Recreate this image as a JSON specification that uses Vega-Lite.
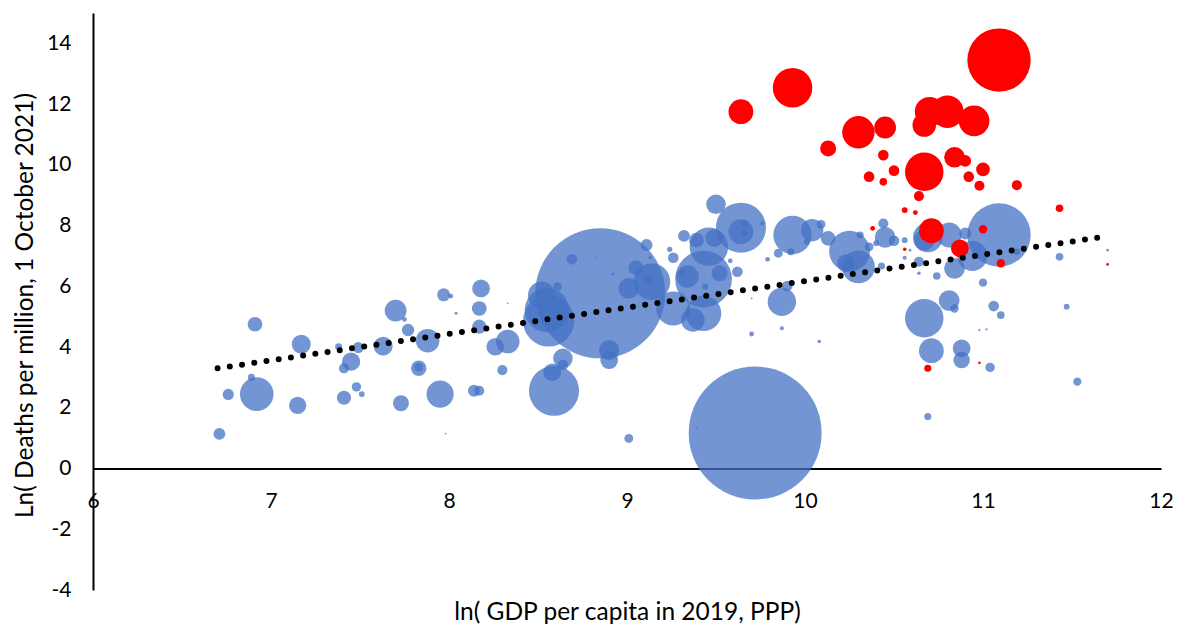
{
"$schema": "https://vega.github.io/schema/vega-lite/v6.json",
"width": 1068, "height": 577,
"autosize": {"type": "none"},
"padding": {"left": 93, "top": 13, "right": 18, "bottom": 34},
"background": "white",
"config": {"view": {"stroke": null}, "font": "Lato",
 "axis": {"grid": false, "ticks": false, "tickSize": 0, "domainColor": "black", "domainWidth": 2, "labelColor": "black", "titleColor": "black", "labelFont": "Lato", "titleFont": "Lato", "labelFontSize": 21, "titleFontSize": 24.5, "titleFontWeight": "normal", "labelOverlap": false}},
"datasets": {
"bubbles": [
{"x":6.91,"y":4.75,"pop":17.1,"highlight":"no"},
{"x":7.17,"y":4.09,"pop":28.5,"highlight":"no"},
{"x":6.71,"y":1.14,"pop":11.2,"highlight":"no"},
{"x":6.76,"y":2.44,"pop":9.9,"highlight":"no"},
{"x":6.92,"y":2.45,"pop":89.9,"highlight":"no"},
{"x":6.89,"y":3.00,"pop":4.0,"highlight":"no"},
{"x":7.15,"y":2.08,"pop":23.4,"highlight":"no"},
{"x":7.38,"y":4.01,"pop":4.0,"highlight":"no"},
{"x":7.45,"y":3.52,"pop":26.4,"highlight":"no"},
{"x":7.41,"y":3.30,"pop":8.1,"highlight":"no"},
{"x":7.49,"y":3.98,"pop":9.9,"highlight":"no"},
{"x":7.48,"y":2.69,"pop":7.0,"highlight":"no"},
{"x":7.51,"y":2.45,"pop":2.7,"highlight":"no"},
{"x":7.41,"y":2.33,"pop":15.9,"highlight":"no"},
{"x":7.63,"y":4.03,"pop":28.5,"highlight":"no"},
{"x":7.70,"y":5.20,"pop":37.7,"highlight":"no"},
{"x":7.75,"y":4.91,"pop":1.8,"highlight":"no"},
{"x":7.77,"y":4.56,"pop":12.2,"highlight":"no"},
{"x":7.80,"y":4.23,"pop":1.8,"highlight":"no"},
{"x":7.88,"y":4.21,"pop":44.0,"highlight":"no"},
{"x":7.83,"y":3.30,"pop":18.8,"highlight":"no"},
{"x":7.83,"y":3.34,"pop":6.2,"highlight":"no"},
{"x":7.73,"y":2.15,"pop":20.2,"highlight":"no"},
{"x":7.95,"y":2.45,"pop":58.3,"highlight":"no"},
{"x":7.97,"y":5.72,"pop":13.3,"highlight":"no"},
{"x":8.01,"y":5.68,"pop":1.8,"highlight":"no"},
{"x":8.04,"y":5.11,"pop":0.7,"highlight":"no"},
{"x":7.98,"y":1.15,"pop":0.25,"highlight":"no"},
{"x":8.17,"y":5.27,"pop":17.1,"highlight":"no"},
{"x":8.18,"y":5.93,"pop":24.9,"highlight":"no"},
{"x":8.17,"y":4.67,"pop":15.9,"highlight":"no"},
{"x":8.14,"y":2.56,"pop":11.2,"highlight":"no"},
{"x":8.17,"y":2.56,"pop":8.1,"highlight":"no"},
{"x":8.26,"y":4.01,"pop":24.9,"highlight":"no"},
{"x":8.33,"y":4.18,"pop":44.0,"highlight":"no"},
{"x":8.30,"y":3.24,"pop":8.1,"highlight":"no"},
{"x":8.33,"y":5.44,"pop":0.25,"highlight":"no"},
{"x":8.85,"y":5.77,"pop":1340,"highlight":"no"},
{"x":8.52,"y":5.71,"pop":58.3,"highlight":"no"},
{"x":8.56,"y":4.86,"pop":209,"highlight":"no"},
{"x":8.55,"y":5.22,"pop":155.6,"highlight":"no"},
{"x":8.59,"y":2.56,"pop":199,"highlight":"no"},
{"x":8.69,"y":6.89,"pop":9.0,"highlight":"no"},
{"x":8.83,"y":6.94,"pop":0.25,"highlight":"no"},
{"x":8.92,"y":6.40,"pop":0.56,"highlight":"no"},
{"x":8.61,"y":5.99,"pop":6.2,"highlight":"no"},
{"x":8.64,"y":3.63,"pop":30.1,"highlight":"no"},
{"x":8.64,"y":3.41,"pop":9.0,"highlight":"no"},
{"x":8.58,"y":3.17,"pop":24.9,"highlight":"no"},
{"x":8.90,"y":3.90,"pop":32.9,"highlight":"no"},
{"x":8.90,"y":3.57,"pop":24.9,"highlight":"no"},
{"x":9.01,"y":5.93,"pop":34.1,"highlight":"no"},
{"x":9.14,"y":6.15,"pop":106.7,"highlight":"no"},
{"x":9.12,"y":6.21,"pop":6.2,"highlight":"no"},
{"x":9.05,"y":6.61,"pop":17.1,"highlight":"no"},
{"x":9.11,"y":7.36,"pop":11.2,"highlight":"no"},
{"x":9.13,"y":6.95,"pop":1.0,"highlight":"no"},
{"x":9.24,"y":7.22,"pop":2.2,"highlight":"no"},
{"x":9.26,"y":6.94,"pop":9.0,"highlight":"no"},
{"x":9.26,"y":5.27,"pop":92.7,"highlight":"no"},
{"x":9.37,"y":4.89,"pop":44.0,"highlight":"no"},
{"x":9.43,"y":5.11,"pop":99.6,"highlight":"no"},
{"x":9.34,"y":6.32,"pop":40.1,"highlight":"no"},
{"x":9.43,"y":6.24,"pop":255,"highlight":"no"},
{"x":9.32,"y":7.66,"pop":11.2,"highlight":"no"},
{"x":9.39,"y":7.52,"pop":17.1,"highlight":"no"},
{"x":9.46,"y":7.30,"pop":117.2,"highlight":"no"},
{"x":9.49,"y":7.59,"pop":24.9,"highlight":"no"},
{"x":9.44,"y":5.99,"pop":3.0,"highlight":"no"},
{"x":9.50,"y":8.70,"pop":30.1,"highlight":"no"},
{"x":9.64,"y":7.93,"pop":199,"highlight":"no"},
{"x":9.64,"y":7.80,"pop":48.8,"highlight":"no"},
{"x":9.66,"y":8.08,"pop":3.0,"highlight":"no"},
{"x":9.66,"y":7.75,"pop":3.0,"highlight":"no"},
{"x":9.76,"y":8.07,"pop":1.3,"highlight":"no"},
{"x":9.52,"y":6.43,"pop":20.2,"highlight":"no"},
{"x":9.62,"y":6.48,"pop":9.0,"highlight":"no"},
{"x":9.58,"y":6.84,"pop":1.8,"highlight":"no"},
{"x":9.31,"y":6.45,"pop":2.7,"highlight":"no"},
{"x":9.93,"y":7.69,"pop":117.2,"highlight":"no"},
{"x":10.04,"y":7.85,"pop":40.1,"highlight":"no"},
{"x":10.09,"y":8.04,"pop":6.2,"highlight":"no"},
{"x":10.13,"y":7.58,"pop":17.1,"highlight":"no"},
{"x":10.01,"y":7.47,"pop":2.7,"highlight":"no"},
{"x":9.92,"y":7.14,"pop":4.0,"highlight":"no"},
{"x":9.85,"y":7.09,"pop":6.2,"highlight":"no"},
{"x":9.79,"y":6.89,"pop":1.8,"highlight":"no"},
{"x":9.87,"y":5.49,"pop":63.7,"highlight":"no"},
{"x":9.90,"y":6.01,"pop":9.0,"highlight":"no"},
{"x":9.87,"y":4.62,"pop":1.3,"highlight":"no"},
{"x":9.70,"y":4.43,"pop":1.8,"highlight":"no"},
{"x":10.08,"y":4.18,"pop":1.0,"highlight":"no"},
{"x":9.70,"y":5.60,"pop":0.25,"highlight":"no"},
{"x":10.25,"y":7.16,"pop":131.7,"highlight":"no"},
{"x":10.30,"y":6.64,"pop":85.2,"highlight":"no"},
{"x":10.23,"y":6.76,"pop":24.9,"highlight":"no"},
{"x":10.44,"y":8.07,"pop":8.1,"highlight":"no"},
{"x":10.45,"y":7.61,"pop":34.1,"highlight":"no"},
{"x":10.50,"y":7.50,"pop":9.0,"highlight":"no"},
{"x":10.40,"y":7.42,"pop":2.7,"highlight":"no"},
{"x":10.31,"y":7.69,"pop":4.0,"highlight":"no"},
{"x":10.36,"y":7.30,"pop":6.2,"highlight":"no"},
{"x":10.43,"y":6.67,"pop":4.0,"highlight":"no"},
{"x":10.56,"y":7.52,"pop":2.7,"highlight":"no"},
{"x":10.56,"y":6.94,"pop":1.3,"highlight":"no"},
{"x":10.64,"y":6.81,"pop":8.1,"highlight":"no"},
{"x":10.64,"y":6.43,"pop":1.0,"highlight":"no"},
{"x":10.59,"y":7.19,"pop":0.56,"highlight":"no"},
{"x":10.69,"y":7.61,"pop":69.4,"highlight":"no"},
{"x":10.67,"y":7.52,"pop":34.1,"highlight":"no"},
{"x":10.81,"y":7.69,"pop":48.8,"highlight":"no"},
{"x":10.90,"y":7.74,"pop":11.2,"highlight":"no"},
{"x":10.84,"y":6.59,"pop":34.1,"highlight":"no"},
{"x":10.94,"y":7.00,"pop":71.9,"highlight":"no"},
{"x":11.09,"y":7.69,"pop":318,"highlight":"no"},
{"x":11.19,"y":7.14,"pop":3.4,"highlight":"no"},
{"x":11.43,"y":6.97,"pop":4.6,"highlight":"no"},
{"x":11.70,"y":7.19,"pop":0.56,"highlight":"no"},
{"x":11.00,"y":6.12,"pop":5.5,"highlight":"no"},
{"x":10.74,"y":6.34,"pop":4.6,"highlight":"no"},
{"x":10.67,"y":4.95,"pop":117.2,"highlight":"no"},
{"x":10.81,"y":5.53,"pop":34.1,"highlight":"no"},
{"x":10.84,"y":5.27,"pop":5.5,"highlight":"no"},
{"x":10.71,"y":3.88,"pop":48.8,"highlight":"no"},
{"x":10.88,"y":3.96,"pop":24.9,"highlight":"no"},
{"x":10.88,"y":3.57,"pop":21.5,"highlight":"no"},
{"x":11.04,"y":3.33,"pop":7.0,"highlight":"no"},
{"x":11.06,"y":5.35,"pop":9.0,"highlight":"no"},
{"x":11.10,"y":5.05,"pop":4.6,"highlight":"no"},
{"x":10.98,"y":4.56,"pop":0.42,"highlight":"no"},
{"x":11.02,"y":4.58,"pop":0.42,"highlight":"no"},
{"x":11.47,"y":5.33,"pop":2.7,"highlight":"no"},
{"x":11.53,"y":2.86,"pop":5.5,"highlight":"no"},
{"x":10.69,"y":1.71,"pop":4.0,"highlight":"no"},
{"x":9.72,"y":1.17,"pop":1400,"highlight":"no"},
{"x":9.01,"y":0.99,"pop":6.2,"highlight":"no"},
{"x":9.39,"y":1.34,"pop":0.42,"highlight":"no"},
{"x":11.09,"y":13.45,"pop":318,"highlight":"yes"},
{"x":9.93,"y":12.54,"pop":123.8,"highlight":"yes"},
{"x":9.64,"y":11.75,"pop":48.8,"highlight":"yes"},
{"x":10.30,"y":11.07,"pop":83.4,"highlight":"yes"},
{"x":10.45,"y":11.23,"pop":37.7,"highlight":"yes"},
{"x":10.13,"y":10.54,"pop":20.2,"highlight":"yes"},
{"x":10.70,"y":11.75,"pop":69.4,"highlight":"yes"},
{"x":10.80,"y":11.75,"pop":83.4,"highlight":"yes"},
{"x":10.67,"y":11.31,"pop":44.0,"highlight":"yes"},
{"x":10.95,"y":11.45,"pop":74.5,"highlight":"yes"},
{"x":10.67,"y":9.77,"pop":117.2,"highlight":"yes"},
{"x":10.84,"y":10.25,"pop":34.1,"highlight":"yes"},
{"x":10.90,"y":10.13,"pop":11.2,"highlight":"yes"},
{"x":10.44,"y":10.32,"pop":9.0,"highlight":"yes"},
{"x":10.50,"y":9.81,"pop":9.0,"highlight":"yes"},
{"x":10.36,"y":9.61,"pop":9.0,"highlight":"yes"},
{"x":10.44,"y":9.44,"pop":4.6,"highlight":"yes"},
{"x":11.00,"y":9.85,"pop":14.8,"highlight":"yes"},
{"x":10.92,"y":9.61,"pop":9.0,"highlight":"yes"},
{"x":10.98,"y":9.31,"pop":8.1,"highlight":"yes"},
{"x":11.19,"y":9.33,"pop":8.1,"highlight":"yes"},
{"x":10.64,"y":8.97,"pop":8.1,"highlight":"yes"},
{"x":10.56,"y":8.51,"pop":2.7,"highlight":"yes"},
{"x":10.62,"y":8.43,"pop":1.8,"highlight":"yes"},
{"x":10.38,"y":7.91,"pop":1.8,"highlight":"yes"},
{"x":10.56,"y":7.22,"pop":1.0,"highlight":"yes"},
{"x":10.71,"y":7.83,"pop":48.8,"highlight":"yes"},
{"x":10.87,"y":7.25,"pop":24.9,"highlight":"yes"},
{"x":11.00,"y":7.88,"pop":5.5,"highlight":"yes"},
{"x":11.10,"y":6.76,"pop":5.5,"highlight":"yes"},
{"x":11.43,"y":8.57,"pop":4.6,"highlight":"yes"},
{"x":11.70,"y":6.72,"pop":0.56,"highlight":"yes"},
{"x":10.69,"y":3.30,"pop":4.0,"highlight":"yes"},
{"x":10.98,"y":3.48,"pop":0.56,"highlight":"yes"}
],
"trend": [
{"x":6.70,"y":3.30},
{"x":11.70,"y":7.65}
]
},
"encoding": {
 "x": {"field": "x", "type": "quantitative", "title": "ln( GDP per capita in 2019, PPP)",
  "scale": {"domain": [6, 12], "nice": false, "zero": false},
  "axis": {"values": [6,7,8,9,10,11,12], "labelExpr": "toString(datum.value)", "offset": -121.5, "labelPadding": 22, "labelFlush": false, "titleY": 151, "titleBaseline": "alphabetic", "titlePadding": 0}},
 "y": {"field": "y", "type": "quantitative", "title": "Ln( Deaths per million, 1 October 2021)",
  "scale": {"domain": [-4, 15], "nice": false, "zero": false},
  "axis": {"values": [-4,-2,0,2,4,6,8,10,12,14], "labelExpr": "toString(datum.value)", "labelPadding": 22, "labelFlush": false, "titleX": -61, "titleY": 292, "titleAngle": 270, "titleBaseline": "alphabetic", "titleAlign": "center"}}
},
"layer": [
 {"data": {"name": "bubbles"}, "transform": [{"filter": "datum.highlight === 'no'"}],
  "mark": {"type": "circle", "color": "#4472C4", "opacity": 0.75, "strokeWidth": 0},
  "encoding": {"size": {"field": "pop", "type": "quantitative", "legend": null, "scale": {"type": "linear", "domain": [0, 1400], "range": [0, 17671], "zero": true}}}},
 {"data": {"name": "bubbles"}, "transform": [{"filter": "datum.highlight === 'yes'"}],
  "mark": {"type": "circle", "color": "#FF0000", "opacity": 1, "strokeWidth": 0},
  "encoding": {"size": {"field": "pop", "type": "quantitative", "legend": null, "scale": {"type": "linear", "domain": [0, 1400], "range": [0, 17671], "zero": true}}}},
 {"data": {"name": "trend"},
  "mark": {"type": "line", "color": "black", "strokeWidth": 6, "strokeDash": [0, 12.35], "strokeCap": "round"}}
]
}
